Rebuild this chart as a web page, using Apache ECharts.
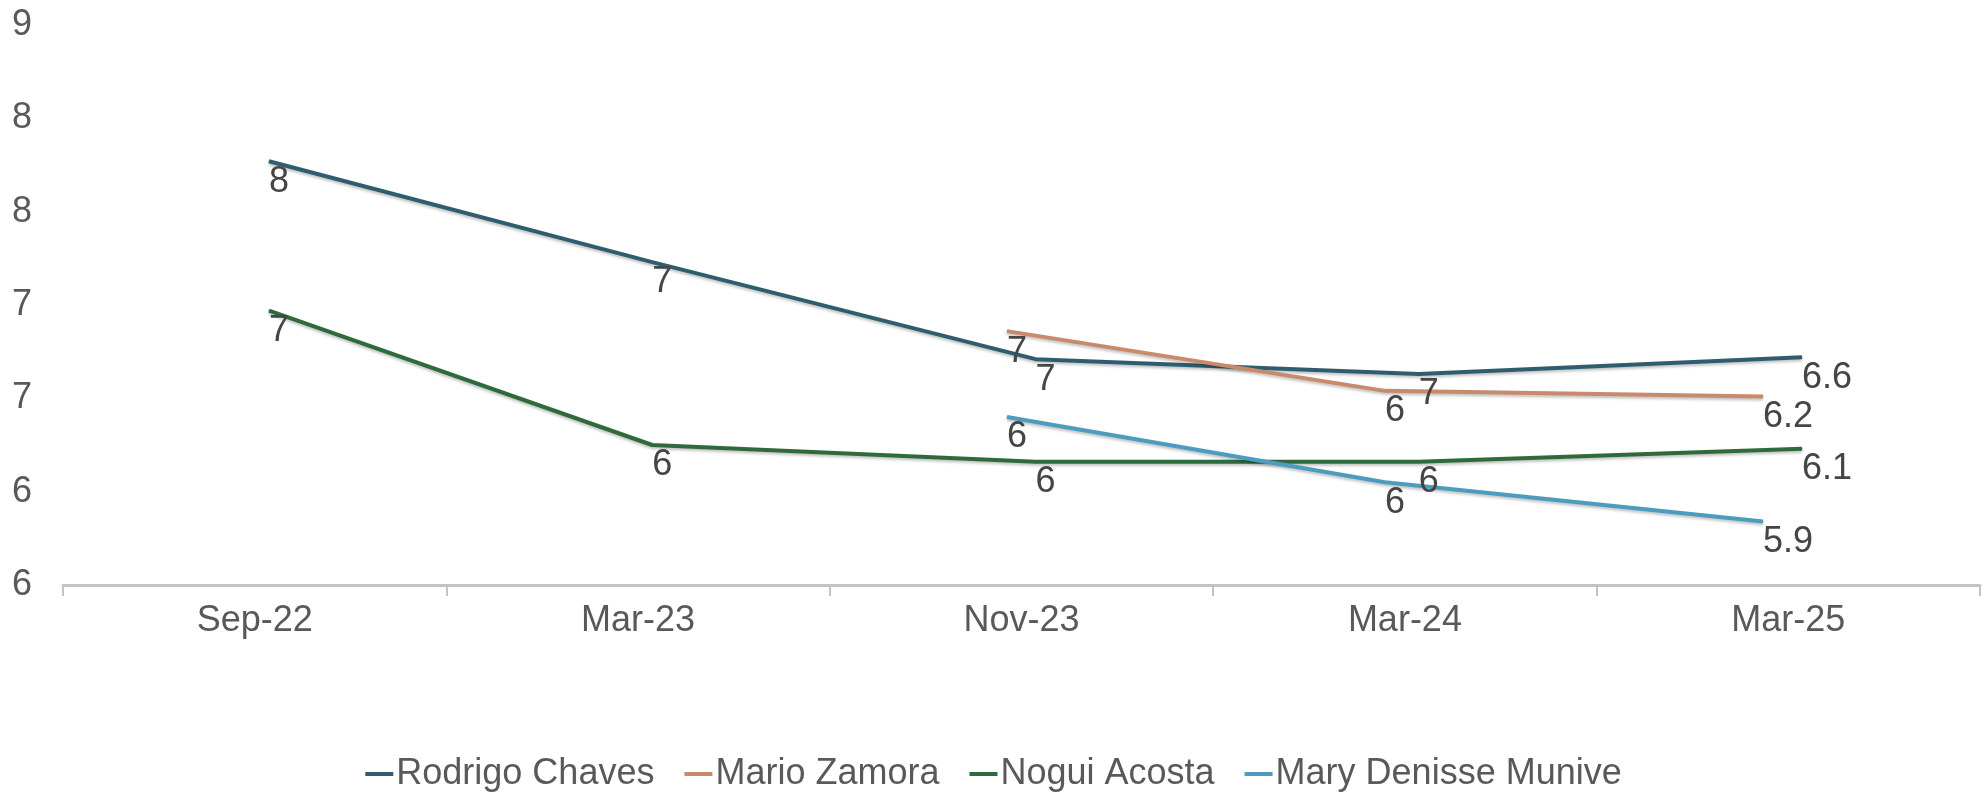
<!DOCTYPE html>
<html>
<head>
<meta charset="utf-8">
<script src="https://cdn.jsdelivr.net/npm/echarts@6/dist/echarts.min.js"></script>
<style>
  html, body { margin: 0; padding: 0; background: #fff; }
  #chart { width: 1987px; height: 801px; }
</style>
</head>
<body>
<div id="chart"></div>
<script>
// categories and tick labels
const categories = ['Sep-22', 'Mar-23', 'Nov-23', 'Mar-24', 'Mar-25']
const yTickLabels = ['6', '6', '7', '7', '8', '8', '9']

// series values
const rodrigo = [8.27, 7.73, 7.21, 7.13, 7.22]
const mario = [null, null, 7.36, 7.04, 7.01]
const nogui = [7.47, 6.75, 6.66, 6.66, 6.73]
const mary = [null, null, 6.90, 6.55, 6.34]

// data labels as printed in the chart
const rodrigoLabels = ['8', '7', '7', '7', '6.6']
const marioLabels = [null, null, '7', '6', '6.2']
const noguiLabels = ['7', '6', '6', '6', '6.1']
const maryLabels = [null, null, '6', '6', '5.9']

const names = ['Rodrigo Chaves', 'Mario Zamora', 'Nogui Acosta', 'Mary Denisse Munive']
const colors = ['#2f5d70', '#c98a6c', '#2f6a3c', '#4c9cbf']

const chart = echarts.init(document.getElementById('chart'))

const FONT = 'Liberation Sans, Arial, sans-serif'
const FS = 36
const TXT = '#595959'

const yAxisBase = { type: 'value', min: 6, max: 9, interval: 0.5 }

const makeSeries = (i, data, labels, axisIdx) => ({
  name: names[i],
  type: 'line',
  xAxisIndex: axisIdx,
  yAxisIndex: axisIdx,
  data: data,
  color: colors[i],
  symbol: 'circle',
  symbolSize: 1,
  itemStyle: { color: colors[i] },
  lineStyle: {
    color: colors[i],
    width: 4,
    shadowColor: 'rgba(0,0,0,0.25)',
    shadowBlur: 3,
    shadowOffsetY: 2,
  },
  label: {
    show: true,
    position: 'bottom',
    distance: 2,
    align: 'left',
    color: '#454545',
    fontFamily: FONT,
    fontSize: FS,
    formatter: (p) => labels[p.dataIndex] ?? '',
  },
  emphasis: { disabled: true },
  silent: true,
  animation: false,
})

const option = {
  animation: false,
  grid: [
    { left: 63, right: 7, top: 25, bottom: 216 },
    { left: 269, right: 185, top: 25, bottom: 216 },
    { left: 251, right: 224, top: 25, bottom: 216 },
  ],
  legend: {
    bottom: 4,
    left: 'center',
    icon: 'rect',
    itemWidth: 28,
    itemHeight: 4,
    itemGap: 30,
    textStyle: { color: TXT, fontFamily: FONT, fontSize: FS, padding: [0, 0, 0, -2] },
    data: names,
  },
  xAxis: [
    {
      gridIndex: 0,
      type: 'category',
      data: categories,
      boundaryGap: true,
      axisLine: { lineStyle: { color: '#c4c4c4', width: 3 } },
      axisTick: { show: true, length: 11, lineStyle: { color: '#c4c4c4', width: 2 } },
      axisLabel: { color: TXT, fontFamily: FONT, fontSize: FS, margin: 18 },
      splitLine: { show: false },
    },
    { gridIndex: 1, type: 'category', data: categories, boundaryGap: false, show: false },
    { gridIndex: 2, type: 'category', data: categories, boundaryGap: false, show: false },
  ],
  yAxis: [
    {
      ...yAxisBase,
      gridIndex: 0,
      axisLine: { show: false },
      axisTick: { show: false },
      splitLine: { show: false },
      axisLabel: {
        color: TXT,
        fontFamily: FONT,
        fontSize: FS,
        margin: 31,
        formatter: (v, idx) => yTickLabels[idx],
      },
    },
    { ...yAxisBase, gridIndex: 1, show: false, splitLine: { show: false } },
    { ...yAxisBase, gridIndex: 2, show: false, splitLine: { show: false } },
  ],
  series: [
    makeSeries(0, rodrigo, rodrigoLabels, 1),
    makeSeries(1, mario, marioLabels, 2),
    makeSeries(2, nogui, noguiLabels, 1),
    makeSeries(3, mary, maryLabels, 2),
  ],
}

chart.setOption(option)
</script>
</body>
</html>
